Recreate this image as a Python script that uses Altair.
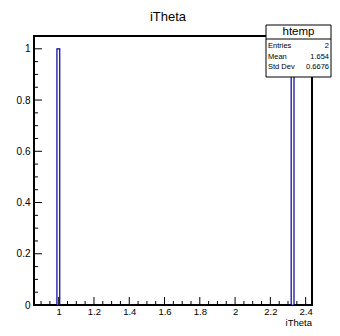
import altair as alt
import pandas as pd

# ---- data ----
bin_start = [0.990, 2.318]
bin_end = [1.006, 2.334]
counts = [1, 1]

x_major = [1.0, 1.2, 1.4, 1.6, 1.8, 2.0, 2.2, 2.4]
x_minor = [0.90, 0.95, 1.05, 1.10, 1.15, 1.25, 1.30, 1.35, 1.45, 1.50, 1.55,
           1.65, 1.70, 1.75, 1.85, 1.90, 1.95, 2.05, 2.10, 2.15, 2.25, 2.30,
           2.35]
y_major = [0.0, 0.2, 0.4, 0.6, 0.8, 1.0]
y_minor = [0.05, 0.10, 0.15, 0.25, 0.30, 0.35, 0.45, 0.50, 0.55, 0.65, 0.70,
           0.75, 0.85, 0.90, 0.95]

x_domain = [0.86, 2.436]
y_domain = [0.0, 1.05]

chart_title = "iTheta"
x_title = "iTheta"
hist_name = "htemp"
stat_names = ["Entries", "Mean", "Std Dev"]
stat_values = ["2", "1.654", "0.6676"]

FONT = "Liberation Sans"
BLUE = "#000099"
W, H = 278, 269

hist = pd.DataFrame({"x0": bin_start, "x1": bin_end, "n": counts})
xs = alt.Scale(domain=x_domain, nice=False, zero=False)
ys = alt.Scale(domain=y_domain, nice=False, zero=False)

x_axis = alt.Axis(values=x_major, format="~g", ticks=False, domain=False,
                  grid=False, labelFont=FONT, labelFontSize=9.5,
                  labelColor="black", labelPadding=1, title=None)
y_axis = alt.Axis(values=y_major, format="~g", ticks=False, domain=False,
                  grid=False, labelFont=FONT, labelFontSize=10,
                  labelColor="black", labelPadding=4, title=None)

bars = alt.Chart(hist).mark_rect(fill="white", stroke=BLUE, strokeWidth=1.2).encode(
    x=alt.X("x0:Q", scale=xs, axis=x_axis),
    x2="x1:Q",
    y=alt.Y("n:Q", scale=ys, axis=y_axis),
    y2=alt.datum(0),
)

def xticks(vals, length):
    return alt.Chart(pd.DataFrame({"v": vals})).mark_rule(color="black", strokeWidth=1).encode(
        x=alt.X("v:Q", scale=xs, axis=x_axis),
        y=alt.value(H), y2=alt.value(H - length))

def yticks(vals, length):
    return alt.Chart(pd.DataFrame({"v": vals})).mark_rule(color="black", strokeWidth=1).encode(
        y=alt.Y("v:Q", scale=ys, axis=y_axis),
        x=alt.value(0), x2=alt.value(length))

one = pd.DataFrame({"a": [0]})

title_mark = alt.Chart(one).mark_text(
    font=FONT, fontSize=13, align="center", baseline="alphabetic", color="black"
).encode(x=alt.value(134), y=alt.value(-15), text=alt.value(chart_title))

xtitle_mark = alt.Chart(one).mark_text(
    font=FONT, fontSize=9.5, align="right", baseline="alphabetic", color="black"
).encode(x=alt.value(W), y=alt.value(H + 21), text=alt.value(x_title))

BX0, BX1 = 232, 297
box = alt.Chart(one).mark_rect(fill="white", stroke="black", strokeWidth=1).encode(
    x=alt.value(BX0), x2=alt.value(BX1), y=alt.value(-11), y2=alt.value(41))
box_line = alt.Chart(one).mark_rule(color="black", strokeWidth=1).encode(
    x=alt.value(BX0), x2=alt.value(BX1), y=alt.value(3))
box_head = alt.Chart(one).mark_text(
    font=FONT, fontSize=11.5, align="center", baseline="middle", color="black"
).encode(x=alt.value((BX0 + BX1) / 2), y=alt.value(-4), text=alt.value(hist_name))

rows = []
row_y = [10, 20.5, 31]
for name, val, yy in zip(stat_names, stat_values, row_y):
    rows.append(alt.Chart(one).mark_text(
        font=FONT, fontSize=7.5, align="left", baseline="middle", color="black"
    ).encode(x=alt.value(BX0 + 2), y=alt.value(yy), text=alt.value(name)))
    rows.append(alt.Chart(one).mark_text(
        font=FONT, fontSize=7.5, align="right", baseline="middle", color="black"
    ).encode(x=alt.value(BX1 - 2), y=alt.value(yy), text=alt.value(val)))

chart = alt.layer(
    bars,
    xticks(x_major, 8), xticks(x_minor, 4),
    yticks(y_major, 8), yticks(y_minor, 4),
    title_mark, xtitle_mark, box, box_line, box_head, *rows,
).properties(
    width=W, height=H,
    autosize=alt.AutoSizeParams(type="none"),
    padding={"left": 26, "top": 28, "right": 20, "bottom": 23},
    background="white",
).configure_view(stroke="black", strokeWidth=2)

chart.save("out.html", embed_options={"renderer": "svg", "actions": False})
